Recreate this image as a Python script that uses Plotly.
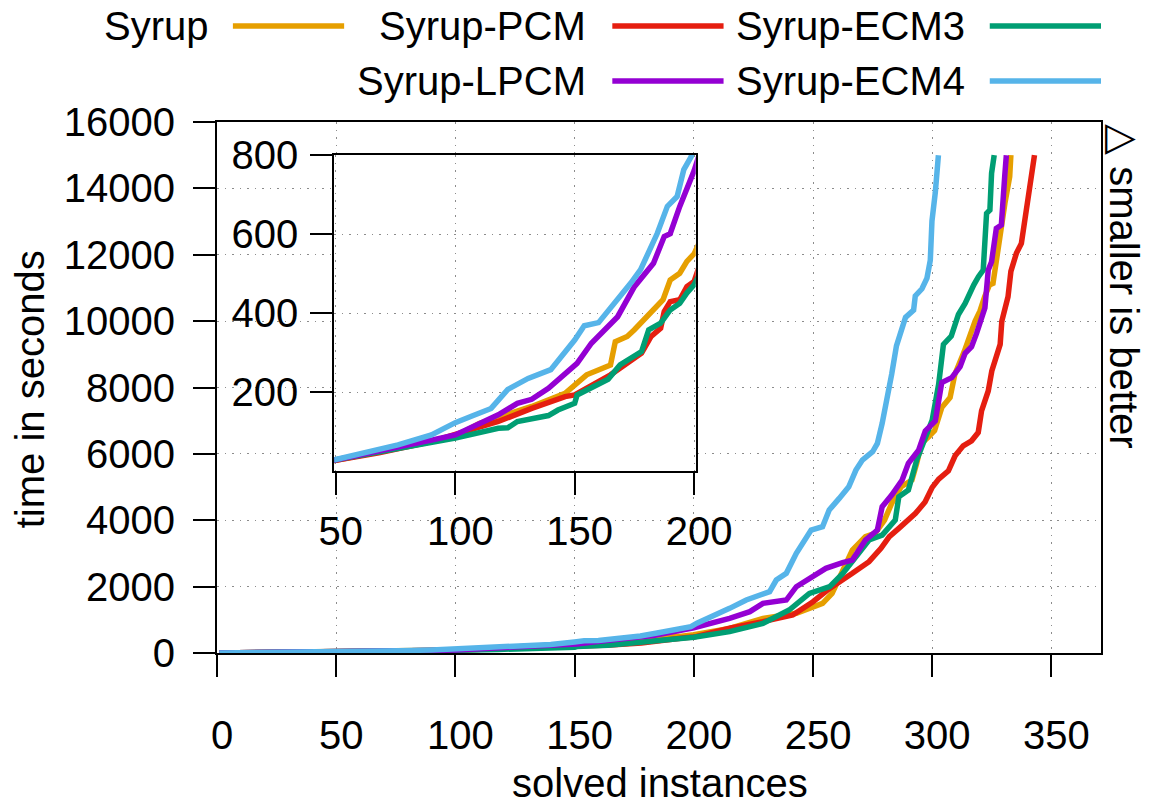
import plotly.graph_objects as go

# ---------------- data ----------------
names = ["Syrup", "Syrup-PCM", "Syrup-ECM3", "Syrup-LPCM", "Syrup-ECM4"]
colors = ["#E69F00", "#E51E10", "#009E73", "#9400D3", "#56B4E9"]

x_syrup = [1, 25, 50, 68, 90, 100, 110, 132, 146, 155, 165, 167, 172, 175, 183, 187, 190, 194, 197, 200,
           215, 229, 243, 254, 258, 262, 266.5, 272, 276, 280, 283, 287, 291.5, 293.5, 295.5, 298.5, 301,
           304, 307.5, 309.5, 313.5, 318, 320, 322, 324, 325.5, 327, 328.5, 330.5, 332.5, 333]
y_syrup = [0.5, 12, 28, 48, 75, 88, 121, 164, 197, 244, 269, 328, 341, 358, 408, 434, 484, 501, 531, 550,
           743, 1044, 1195, 1496, 1797, 2400, 3102, 3504, 3604, 4006, 4508, 5010, 5211, 5713, 6315, 6516, 6700,
           7395, 7695, 8397, 9098, 10000, 10300, 10736, 11088, 11138, 11942, 12745, 13548, 14351, 15000]

x_pcm = [1, 25, 50, 68, 90, 108, 118, 132, 146, 150, 165, 178, 182, 186, 187.5, 190, 194, 197, 200, 215,
         229, 241.5, 250, 257, 266.5, 273.5, 278.5, 282, 286, 293, 297, 300, 302.7, 306.8, 309.6, 313, 316.5,
         319.3, 320.7, 323.5, 325, 327.5, 328.5, 329.2, 330.6, 331.8, 333, 335.3, 337.4, 338.8, 340.1, 341.5, 342.9]
y_pcm = [0.5, 12, 28, 47, 75, 109, 126, 159, 189, 193, 244, 299, 341, 362, 404, 429, 434, 467, 480, 750,
         944, 1145, 1546, 1948, 2400, 2751, 3153, 3504, 3755, 4207, 4550, 4990, 5240, 5491, 5942, 6242, 6393,
         6643, 7295, 7896, 8500, 9050, 9300, 10000, 10450, 10736, 11500, 12042, 12343, 13046, 13850, 14351, 15000]

x_ecm3 = [1, 25, 50, 68, 100, 118, 122, 126, 139, 143, 150, 151, 164, 169, 178, 181, 186, 190, 194, 197,
          200, 215, 229, 240, 248.5, 257, 262.5, 268, 273.5, 279, 284.5, 286, 290, 293.5, 297, 300, 302.7,
          304.7, 308, 311, 313.8, 315, 317.4, 319.4, 321.4, 322.8, 324.2, 324.9, 326]
y_ecm3 = [0.5, 12, 29, 48, 84, 109, 110, 126, 141, 155, 172, 193, 233, 269, 303, 358, 375, 408, 425, 451,
          472, 643, 894, 1295, 1797, 1998, 2400, 2902, 3404, 3554, 4006, 4709, 4910, 5813, 6416, 7018, 8096,
          9299, 9549, 10200, 10535, 10736, 11088, 11338, 11540, 13247, 13347, 14453, 15000]

x_lpcm = [1, 25, 50, 68, 90, 100, 107, 118, 126, 132, 139, 146, 151, 157, 168, 175, 183, 187.5, 190, 194,
          197, 200, 215, 223.5, 229, 238.8, 243, 250, 255.4, 262.4, 266.5, 272, 277, 279, 283, 287.4, 290,
          294.3, 297.1, 301.3, 304, 308.2, 311.7, 313.8, 316.5, 318.6, 320.7, 322.1, 323.5, 324.9, 326.9,
          329, 330.4, 331.1]
y_lpcm = [0.5, 12, 29, 50, 79, 92, 113, 143, 172, 182, 210, 248, 273, 324, 391, 467, 526, 594, 601, 670,
          716, 760, 1044, 1245, 1496, 1596, 1998, 2299, 2550, 2721, 2801, 3404, 3705, 4408, 4759, 5211, 5713,
          6114, 6693, 6994, 8146, 8297, 8627, 9029, 9230, 9631, 10033, 10400, 11540, 11791, 12795,
          12895, 14351, 15000]

x_ecm4 = [1, 25, 50, 68, 76, 90, 100, 107, 115, 122, 130.5, 140, 150, 154, 160, 173.5, 177.6, 184.6, 188.8,
          192.9, 195.7, 198.8, 201.3, 209.6, 215, 222, 231.8, 234.6, 238.8, 243, 245.7, 249.2, 254, 256.8,
          261, 265, 268, 270.7, 275, 277, 279, 281, 283, 285, 288.8, 292.2, 292.9, 295.7, 297.8, 299.2,
          299.9, 301.3, 302.6]
y_ecm4 = [0.5, 12, 30, 54, 67, 92, 123, 140, 159, 207, 235, 257, 332, 368, 376, 476, 510, 602, 670,
          695, 763, 796, 900, 1145, 1345, 1596, 1847, 2199, 2400, 3002, 3303, 3705, 3805, 4307,
          4659, 5010, 5512, 5813, 6064, 6315, 6918, 7620, 8400, 9254, 10114, 10330, 10760, 10975, 11298, 11836,
          13020, 13880, 15000]

xs_all = [x_syrup, x_pcm, x_ecm3, x_lpcm, x_ecm4]
ys_all = [y_syrup, y_pcm, y_ecm3, y_lpcm, y_ecm4]

main_xticks = [0, 50, 100, 150, 200, 250, 300, 350]
main_yticks = [0, 2000, 4000, 6000, 8000, 10000, 12000, 14000, 16000]
inset_xticks = [50, 100, 150, 200]
inset_yticks = [200, 400, 600, 800]
main_xrange = [0, 370.8]
main_yrange = [0, 16000]
inset_xrange = [49.3, 200.7]
inset_yrange = [0, 800]

# ---------------- figure ----------------
W, H = 1150, 809
L, R, T, B = 217, 1107, 122, 653   # plot frame, in pixels
FONT = "Liberation Sans, Arial, Helvetica, sans-serif"
FS = 40
LW = 5.5

def px(xp):
    return (xp - L) / (R - L)

def py(ypix):
    return (B - ypix) / (B - T)

fig = go.Figure()
for n, c, xs, ys in zip(names, colors, xs_all, ys_all):
    fig.add_trace(go.Scatter(x=xs, y=ys, mode="lines", name=n, line=dict(color=c, width=LW),
                             xaxis="x", yaxis="y", showlegend=False, hoverinfo="skip"))
for n, c, xs, ys in zip(names, colors, xs_all, ys_all):
    fig.add_trace(go.Scatter(x=xs, y=ys, mode="lines", name=n, line=dict(color=c, width=LW),
                             xaxis="x2", yaxis="y2", showlegend=False, hoverinfo="skip"))

grid = dict(showgrid=True, gridcolor="#8c8c8c", gridwidth=1, griddash="1.5px,6px")
axis_common = dict(showline=True, linecolor="black", linewidth=2, mirror=True, ticks="outside",
                   tickwidth=2, tickcolor="black", zeroline=False, tickformat="d",
                   tickfont=dict(family=FONT, size=FS, color="black"), **grid)

fig.update_layout(
    width=W, height=H,
    margin=dict(l=L, r=W - R, t=T, b=H - B, pad=0),
    paper_bgcolor="white", plot_bgcolor="white", showlegend=False,
    font=dict(family=FONT, size=FS, color="black"),
    xaxis=dict(domain=[0, 1], range=main_xrange, tickvals=main_xticks, anchor="y",
               ticklen=22, ticklabelstandoff=24, ticklabelshift=5, **axis_common),
    yaxis=dict(domain=[0, 1], range=main_yrange, tickvals=main_yticks, anchor="x",
               ticklen=22, ticklabelstandoff=10, **axis_common),
    xaxis2=dict(domain=[px(335), px(699)], range=inset_xrange, tickvals=inset_xticks, anchor="y2",
                ticklen=22, ticklabelstandoff=2, ticklabelshift=5, **axis_common),
    yaxis2=dict(domain=[py(471.3), py(155)], range=inset_yrange, tickvals=inset_yticks, anchor="x2",
                ticklen=22, ticklabelstandoff=4, **axis_common),
)

# opaque inset background
fig.add_shape(type="rect", xref="x2", yref="y2", x0=inset_xrange[0], x1=inset_xrange[1],
              y0=inset_yrange[0], y1=inset_yrange[1], fillcolor="white", line_width=0, layer="below")

# axis titles
fig.add_annotation(text="solved instances", xref="paper", yref="paper", x=px(663), y=py(783),
                   xanchor="center", yanchor="middle", showarrow=False, font=dict(family=FONT, size=FS))
fig.add_annotation(text="time in seconds", xref="paper", yref="paper", x=px(29), y=py(389),
                   xanchor="center", yanchor="middle", textangle=-90, showarrow=False,
                   font=dict(family=FONT, size=FS))
fig.add_annotation(text="\u25B3 smaller is better", xref="paper", yref="paper", x=px(1130), y=1.0,
                   xanchor="center", yanchor="top", textangle=90, showarrow=False,
                   font=dict(family=FONT, size=FS))

# gnuplot-style key: text right-aligned, then line sample
key_rows = [26, 26, 26, 81, 81]
key_text_right = [211, 591, 972, 591, 972]
key_line = [(233, 345), (615, 727), (995, 1107), (615, 727), (995, 1107)]
for n, c, yr, xr, (l0, l1) in zip(names, colors, key_rows, key_text_right, key_line):
    fig.add_annotation(text=n, xref="paper", yref="paper", x=px(xr), y=py(yr), xanchor="right",
                       yanchor="middle", showarrow=False, font=dict(family=FONT, size=FS))
    fig.add_shape(type="line", xref="paper", yref="paper", x0=px(l0), x1=px(l1), y0=py(yr), y1=py(yr),
                  line=dict(color=c, width=LW))

# the page is photographed at its top-left corner: drop the default 8px body margin
fig.write_html("out.html", config={"displayModeBar": False},
               post_script="document.body.style.margin='0px';")
